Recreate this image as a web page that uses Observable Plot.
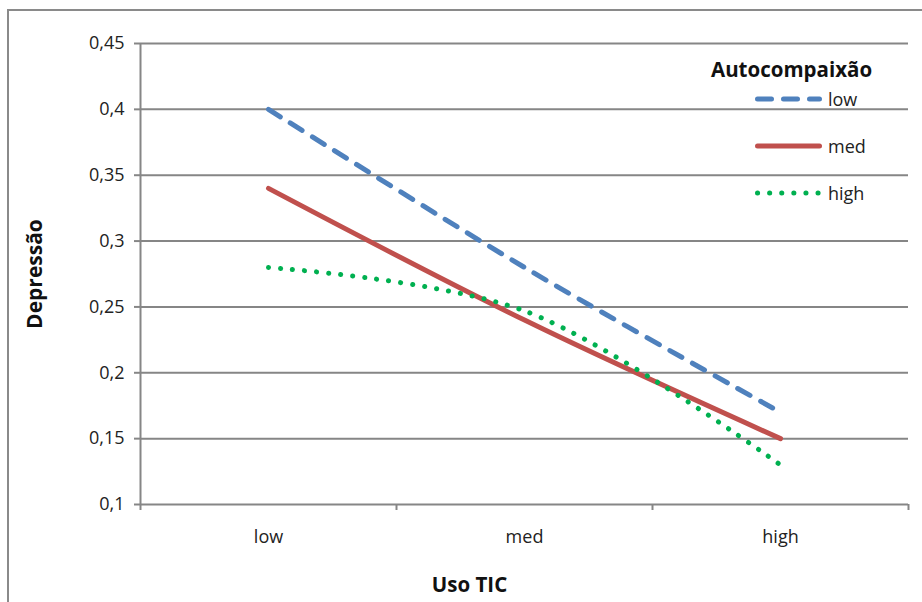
<!DOCTYPE html>
<html>
<head>
<meta charset="utf-8">
<script src="https://cdn.jsdelivr.net/npm/d3@7"></script>
<script src="https://cdn.jsdelivr.net/npm/@observablehq/plot@0.6"></script>
<style>
  html, body { margin: 0; padding: 0; background: #fff; }
  #wrap { position: relative; width: 922px; height: 602px; overflow: hidden; font-family: "Open Sans", sans-serif; color: #222; }
  #frame { position: absolute; left: 7px; top: 9px; width: 940px; height: 620px; border-top: 2px solid #8a8a8a; border-left: 2px solid #8a8a8a; pointer-events: none; }
  #legend { position: absolute; left: 0; top: 0; width: 922px; height: 602px; pointer-events: none; }
  .ltitle { position: absolute; left: 711px; top: 55px; font-weight: bold; font-size: 20.5px; white-space: nowrap; color: #111; }
  .lrow { position: absolute; left: 751px; height: 26px; display: flex; align-items: center; white-space: nowrap; font-size: 18px; }
  .lrow svg { display: block; margin-right: 3px; }
</style>
</head>
<body>
<div id="wrap">
  <div id="chart"></div>
  <div id="frame"></div>
  <div id="legend"></div>
</div>
<script>
// ---- data ----
const categories = ["low", "med", "high"];          // Uso TIC
const seriesNames = ["low", "med", "high"];         // Autocompaixão
const lowValues  = [0.40, 0.28, 0.17];
const medValues  = [0.34, 0.24, 0.15];
const highValues = [0.28, 0.247, 0.13];
const yTicks = [0.1, 0.15, 0.2, 0.25, 0.3, 0.35, 0.4, 0.45];
const yTickLabels = ["0,1", "0,15", "0,2", "0,25", "0,3", "0,35", "0,4", "0,45"];
const yTitle = "Depressão";
const xTitle = "Uso TIC";
const legendTitle = "Autocompaixão";

// ---- styles ----
const seriesStyle = {
  low:  {stroke: "#4F81BD", strokeWidth: 5, strokeDasharray: "14,12", strokeLinecap: "round"},
  med:  {stroke: "#C0504D", strokeWidth: 5, strokeDasharray: null,    strokeLinecap: "round"},
  high: {stroke: "#00B050", strokeWidth: 5, strokeDasharray: "0.1,12", strokeLinecap: "round"}
};

const valuesBySeries = {low: lowValues, med: medValues, high: highValues};
const rows = seriesNames.flatMap(s =>
  categories.map((c, i) => ({series: s, cat: c, xi: i + 0.5, value: valuesBySeries[s][i]}))
);

const gridColor = "#868686";

const lineMarks = seriesNames.map(s => {
  const st = seriesStyle[s];
  const o = {x: "xi", y: "value", stroke: st.stroke, strokeWidth: st.strokeWidth,
             strokeLinecap: st.strokeLinecap, strokeLinejoin: "round", curve: "catmull-rom"};
  if (st.strokeDasharray) o.strokeDasharray = st.strokeDasharray;
  return Plot.line(rows.filter(r => r.series === s), o);
});

const chart = Plot.plot({
  width: 922,
  height: 602,
  marginLeft: 140,
  marginRight: 14,
  marginTop: 43,
  marginBottom: 98,
  style: {fontFamily: "'Open Sans', sans-serif", fontSize: "18px", color: "#222", background: "transparent"},
  x: {type: "linear", domain: [0, categories.length], axis: null},
  y: {domain: [yTicks[0], yTicks[yTicks.length - 1]], axis: null},
  marks: [
    Plot.gridY(yTicks, {stroke: gridColor, strokeOpacity: 1, strokeWidth: 2}),
    Plot.ruleX([0], {stroke: gridColor, strokeWidth: 2}),
    Plot.axisY(yTicks, {
      tickSize: 6, tickPadding: 10, stroke: gridColor, strokeWidth: 2, label: null,
      fontSize: 18, tickFormat: d => yTickLabels[yTicks.indexOf(d)]
    }),
    Plot.axisX(d3.range(categories.length + 1), {
      tickSize: 6, stroke: gridColor, strokeWidth: 2, tickFormat: () => "", label: null
    }),
    Plot.axisX(categories.map((c, i) => i + 0.5), {
      tickSize: 0, tickPadding: 26, fontSize: 18, label: null,
      tickFormat: d => categories[Math.floor(d)]
    }),
    ...lineMarks,
    Plot.text([yTitle], {frameAnchor: "left", textAnchor: "middle", lineAnchor: "middle", dx: -105, rotate: -90, fontWeight: "bold", fontSize: 21, fill: "#111"}),
    Plot.text([xTitle], {frameAnchor: "bottom", textAnchor: "middle", lineAnchor: "middle", dx: -55, dy: 81, fontWeight: "bold", fontSize: 20.5, fill: "#111"})
  ]
});
document.getElementById("chart").appendChild(chart);

// ---- legend ----
const legend = document.getElementById("legend");
const t = document.createElement("div");
t.className = "ltitle";
t.textContent = legendTitle;
legend.appendChild(t);
const rowCenters = [99, 146, 193];
seriesNames.forEach((s, i) => {
  const st = seriesStyle[s];
  const row = document.createElement("div");
  row.className = "lrow";
  row.style.top = (rowCenters[i] - 13) + "px";
  const svgNS = "http://www.w3.org/2000/svg";
  const svg = document.createElementNS(svgNS, "svg");
  svg.setAttribute("width", 74);
  svg.setAttribute("height", 12);
  const ln = document.createElementNS(svgNS, "line");
  ln.setAttribute("x1", 6.5); ln.setAttribute("x2", 68.5);
  ln.setAttribute("y1", 6); ln.setAttribute("y2", 6);
  ln.setAttribute("stroke", st.stroke);
  ln.setAttribute("stroke-width", st.strokeWidth);
  ln.setAttribute("stroke-linecap", st.strokeLinecap);
  if (st.strokeDasharray) ln.setAttribute("stroke-dasharray", st.strokeDasharray);
  svg.appendChild(ln);
  row.appendChild(svg);
  const lab = document.createElement("span");
  lab.textContent = s;
  row.appendChild(lab);
  legend.appendChild(row);
});
</script>
</body>
</html>
